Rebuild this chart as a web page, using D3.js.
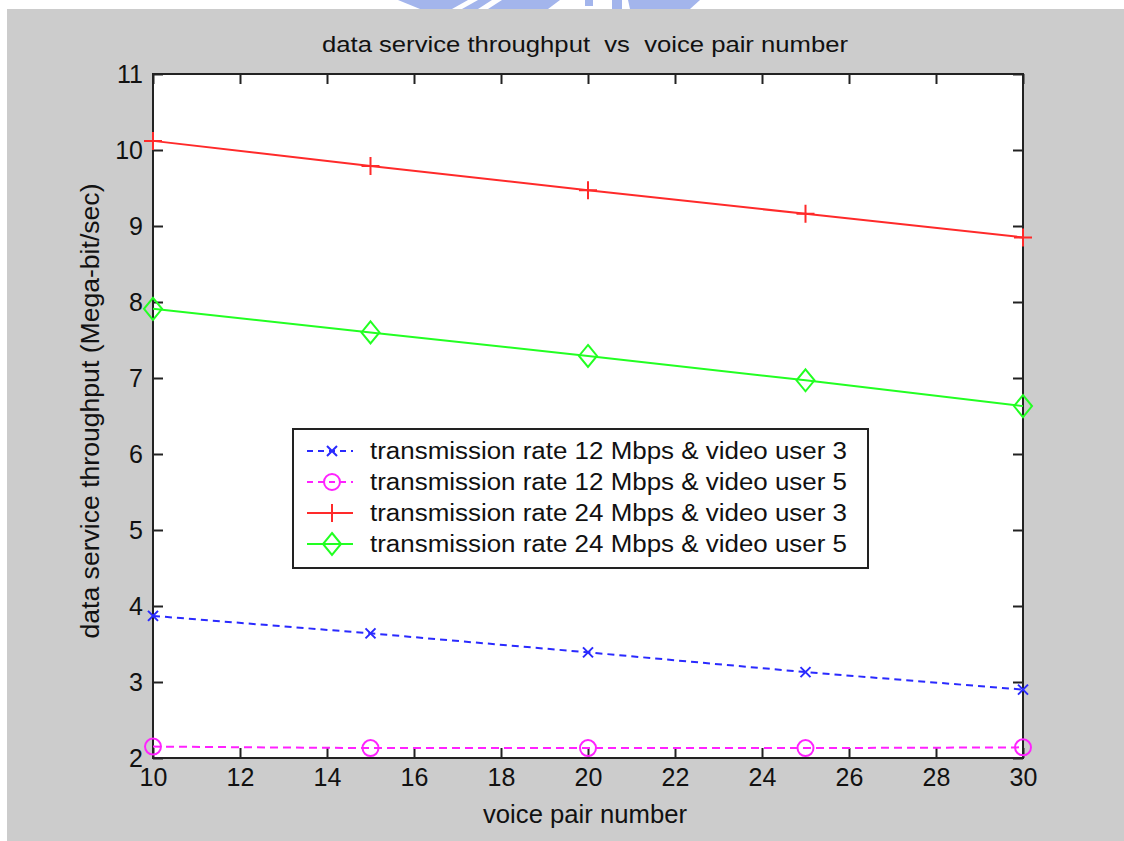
<!DOCTYPE html>
<html>
<head>
<meta charset="utf-8">
<script src="https://cdn.jsdelivr.net/npm/d3@7"></script>
<style>
  html, body { margin: 0; padding: 0; background: #ffffff; }
  svg { display: block; }
  text { font-family: "Liberation Sans", Arial, sans-serif; fill: #111; white-space: pre; }
</style>
</head>
<body>
<svg id="chart" width="1124" height="841"></svg>
<script>
// Voice pair counts on the x axis
const voicePairs = [10, 15, 20, 25, 30];

// Data service throughput (Mega-bit/sec) for each configuration
const rate12User3 = [3.87, 3.64, 3.39, 3.13, 2.90];
const rate12User5 = [2.15, 2.13, 2.13, 2.13, 2.14];
const rate24User3 = [10.12, 9.79, 9.47, 9.16, 8.85];
const rate24User5 = [7.91, 7.60, 7.29, 6.97, 6.63];

const seriesNames = [
  "transmission rate 12 Mbps & video user 3",
  "transmission rate 12 Mbps & video user 5",
  "transmission rate 24 Mbps & video user 3",
  "transmission rate 24 Mbps & video user 5"
];

const xTicks = [10, 12, 14, 16, 18, 20, 22, 24, 26, 28, 30];
const yTicks = [2, 3, 4, 5, 6, 7, 8, 9, 10, 11];

const series = [
  { name: seriesNames[0], values: rate12User3, color: "#2a2aff", dash: "7,5", marker: "x" },
  { name: seriesNames[1], values: rate12User5, color: "#ff22ff", dash: "8,5", marker: "o" },
  { name: seriesNames[2], values: rate24User3, color: "#ff2a2a", dash: null, marker: "+" },
  { name: seriesNames[3], values: rate24User5, color: "#22ff22", dash: null, marker: "d" }
];

const svg = d3.select("#chart");
const W = 1124, H = 841;

// Figure background
svg.append("rect").attr("x", 0).attr("y", 0).attr("width", W).attr("height", H).attr("fill", "#ffffff");

// Faint logo fragment along the top edge
const mark = svg.append("g").attr("fill", "#a3b5ec");
[
  [[398,0],[468,0],[452,9],[420,9]],
  [[478,0],[492,0],[478,9],[462,9]],
  [[502,0],[560,0],[548,9],[488,9]],
  [[585,0],[593,0],[593,6],[585,6]],
  [[612,0],[622,0],[622,9],[612,9]],
  [[628,0],[700,0],[690,9],[630,9]]
].forEach(p => mark.append("polygon").attr("points", p.map(d => d.join(",")).join(" ")));

svg.append("rect").attr("x", 7).attr("y", 9).attr("width", W - 7).attr("height", H - 9).attr("fill", "#cccccc");

const plot = { left: 153, right: 1023, top: 74, bottom: 758 };

const x = d3.scaleLinear().domain([10, 30]).range([plot.left, plot.right]);
const y = d3.scaleLinear().domain([2, 11]).range([plot.bottom, plot.top]);

// Plot area
svg.append("rect")
  .attr("x", plot.left).attr("y", plot.top)
  .attr("width", plot.right - plot.left).attr("height", plot.bottom - plot.top)
  .attr("fill", "#ffffff");

const axisColor = "#222";
const tickLen = 10;

function styleAxis(g) {
  g.select(".domain").remove();
  g.selectAll(".tick line").attr("stroke", axisColor).attr("stroke-width", 2);
  g.selectAll(".tick text")
    .attr("font-size", 25)
    .attr("font-family", "Liberation Sans, Arial, sans-serif")
    .attr("fill", "#111");
}

// Bottom axis (labels) with inward ticks
svg.append("g")
  .attr("transform", `translate(0,${plot.bottom})`)
  .call(d3.axisBottom(x).tickValues(xTicks).tickFormat(d3.format("d")).tickSize(-tickLen).tickPadding(9))
  .call(styleAxis)
  .call(g => g.selectAll(".tick text").attr("dy", "0.75em"));

// Top axis ticks only
svg.append("g")
  .attr("transform", `translate(0,${plot.top})`)
  .call(d3.axisTop(x).tickValues(xTicks).tickFormat("").tickSize(-tickLen))
  .call(styleAxis);

// Left axis (labels) with inward ticks
svg.append("g")
  .attr("transform", `translate(${plot.left},0)`)
  .call(d3.axisLeft(y).tickValues(yTicks).tickFormat(d3.format("d")).tickSize(-tickLen).tickPadding(10))
  .call(styleAxis);

// Right axis ticks only
svg.append("g")
  .attr("transform", `translate(${plot.right},0)`)
  .call(d3.axisRight(y).tickValues(yTicks).tickFormat("").tickSize(-tickLen))
  .call(styleAxis);

// Axes box
svg.append("rect")
  .attr("x", plot.left).attr("y", plot.top)
  .attr("width", plot.right - plot.left).attr("height", plot.bottom - plot.top)
  .attr("fill", "none").attr("stroke", axisColor).attr("stroke-width", 2);

// Marker drawing helper
function drawMarker(g, cx, cy, type, color) {
  const s = { stroke: color, "stroke-width": 2, fill: "none" };
  const apply = sel => { Object.entries(s).forEach(([k, v]) => sel.attr(k, v)); return sel; };
  if (type === "x") {
    const r = 5;
    apply(g.append("path").attr("d", `M${cx - r},${cy - r}L${cx + r},${cy + r}M${cx - r},${cy + r}L${cx + r},${cy - r}`));
  } else if (type === "o") {
    apply(g.append("circle").attr("cx", cx).attr("cy", cy).attr("r", 8));
  } else if (type === "+") {
    const r = 9;
    apply(g.append("path").attr("d", `M${cx - r},${cy}L${cx + r},${cy}M${cx},${cy - r}L${cx},${cy + r}`));
  } else if (type === "d") {
    const rx = 9, ry = 11;
    apply(g.append("path").attr("d", `M${cx},${cy - ry}L${cx + rx},${cy}L${cx},${cy + ry}L${cx - rx},${cy}Z`));
  }
}

const line = d3.line().x((d, i) => x(voicePairs[i])).y(d => y(d));

const lines = svg.append("g");
series.forEach(s => {
  const g = lines.append("g");
  g.append("path")
    .attr("d", line(s.values))
    .attr("fill", "none")
    .attr("stroke", s.color)
    .attr("stroke-width", 2)
    .attr("stroke-dasharray", s.dash);
  s.values.forEach((v, i) => drawMarker(g, x(voicePairs[i]), y(v), s.marker, s.color));
});

// Legend
const legend = { x: 293, y: 429, w: 575, h: 139, row: 31, first: 22 };
const lg = svg.append("g");
lg.append("rect")
  .attr("x", legend.x).attr("y", legend.y)
  .attr("width", legend.w).attr("height", legend.h)
  .attr("fill", "#ffffff").attr("stroke", axisColor).attr("stroke-width", 2);

series.forEach((s, i) => {
  const cy = legend.y + legend.first + i * legend.row;
  const g = lg.append("g");
  g.append("line")
    .attr("x1", legend.x + 14).attr("x2", legend.x + 60)
    .attr("y1", cy).attr("y2", cy)
    .attr("stroke", s.color).attr("stroke-width", 2)
    .attr("stroke-dasharray", s.dash ? "6,5" : null);
  drawMarker(g, legend.x + 39, cy, s.marker, s.color);
  g.append("text")
    .attr("x", legend.x + 77).attr("y", cy)
    .attr("dy", "0.36em")
    .attr("font-size", 23)
    .attr("textLength", 477)
    .attr("lengthAdjust", "spacingAndGlyphs")
    .text(s.name);
});

// Title and axis labels
svg.append("text")
  .attr("x", 585).attr("y", 52)
  .attr("text-anchor", "middle")
  .attr("font-size", 22)
  .attr("textLength", 526)
  .attr("lengthAdjust", "spacingAndGlyphs")
  .text("data service throughput  vs  voice pair number");

svg.append("text")
  .attr("x", 585).attr("y", 823)
  .attr("text-anchor", "middle")
  .attr("font-size", 25)
  .attr("textLength", 204)
  .attr("lengthAdjust", "spacingAndGlyphs")
  .text("voice pair number");

svg.append("text")
  .attr("transform", "translate(99,411) rotate(-90)")
  .attr("text-anchor", "middle")
  .attr("font-size", 25)
  .attr("textLength", 455)
  .attr("lengthAdjust", "spacingAndGlyphs")
  .text("data service throughput (Mega-bit/sec)");
</script>
</body>
</html>
